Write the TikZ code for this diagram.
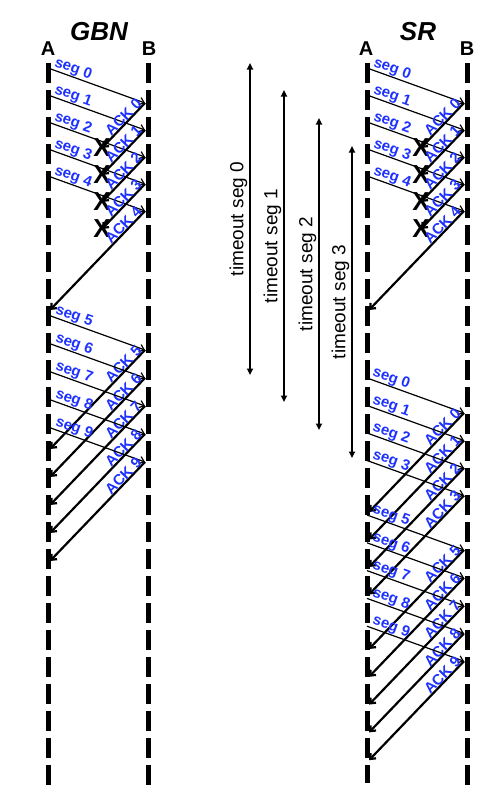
\documentclass[tikz,border=0pt]{standalone}
\usepackage{fontspec}
\setmainfont{Liberation Sans}
\usetikzlibrary{arrows.meta,calc}
\definecolor{lblblue}{RGB}{30,50,255}
\begin{document}
\begin{tikzpicture}[x=1pt, y=-1pt, line join=round,
	>={Straight Barb[length=4.5pt,width=7.5pt]},
	life/.style={line width=5pt, line cap=butt, dash pattern=on 20pt off 7pt},
	segline/.style={->, line width=1.2pt},
	ackline/.style={->, line width=2.2pt},
	seglbl/.style={lblblue, font=\fontsize{15}{17}\selectfont\bfseries, rotate=-19.8, anchor=south, inner sep=0.5pt},
	acklbl/.style={lblblue, font=\fontsize{15}{17}\selectfont\bfseries, rotate=46, anchor=south, inner sep=0.5pt},
	lost/.style={font=\fontsize{26}{28}\selectfont\bfseries, inner sep=0pt},
	tmo/.style={{Triangle[length=6.5pt,width=6pt]}-{Triangle[length=6.5pt,width=6pt]}, line width=2.3pt},
	tmolbl/.style={font=\fontsize{19}{21}\selectfont, rotate=90, anchor=south, inner sep=0pt},
	ttl/.style={font=\fontsize{26}{28}\selectfont\bfseries\itshape},
	ent/.style={font=\fontsize{20}{22}\selectfont\bfseries}]
	\useasboundingbox (0,0) rectangle (503,812);
	% ==================== TITLES ====================
	\node[ttl] (gbn) at (99,32) {GBN};
	\node[ttl] (sr) at (418,32) {SR};
	\node[ent] (gA) at (48,49) {A};
	\node[ent] (gB) at (149,49) {B};
	\node[ent] (sA) at (366,49) {A};
	\node[ent] (sB) at (467,49) {B};
	% ==================== LIFELINES ====================
	\path (48,63) coordinate (gAt) (48,785) coordinate (gAb)
	(148,63) coordinate (gBt) (148,787) coordinate (gBb)
	(367,63) coordinate (sAt) (367,783) coordinate (sAb)
	(467,63) coordinate (sBt) (467,785) coordinate (sBb);
	\foreach \p in {gA,gB,sA,sB}
	\draw[life] (\p t) -- (\p b);
	% ==================== FIRST WINDOW (GBN and SR) ====================
	\foreach \pp/\dx in {g/0, s/319}{
		\foreach \i in {0,...,4}{
			\pgfmathsetmacro\ys{68+27*\i}
			\path (\dx+48,\ys) coordinate (\pp s\i) (\dx+145,\ys+35) coordinate (\pp e\i);
			\draw[segline] (\pp s\i) -- (\pp e\i);
			\node[seglbl] (\pp sl\i) at ($(\pp s\i)!24pt!(\pp e\i)$) {seg \i};
		}
		% lost acks
		\foreach \i in {0,...,3}{
			\path (\pp e\i) ++(-43,45) coordinate (\pp x\i);
			\draw[ackline] (\pp e\i) -- (\pp x\i);
			\node[lost] (\pp X\i) at (\pp x\i) {X};
			\node[acklbl] (\pp al\i) at ($(\pp e\i)!25pt!(\pp x\i)$) {ACK \i};
		}
		\path (\pp e4) ++(-95,99) coordinate (\pp a4);
		\draw[ackline] (\pp e4) -- (\pp a4);
		\node[acklbl] (\pp al4) at ($(\pp e4)!25pt!(\pp a4)$) {ACK 4};
	}
	% ==================== GBN: SEG 5--9 ====================
	\foreach \i in {5,...,9}{
		\pgfmathsetmacro\ys{315+28*(\i-5)}
		\path (48,\ys) coordinate (gs\i) (145,\ys+35) coordinate (ge\i)
		(50,\ys+134) coordinate (ga\i);
		\draw[segline] (gs\i) -- (ge\i);
		\draw[ackline] (ge\i) -- (ga\i);
		\node[seglbl] (gsl\i) at ($(gs\i)!25pt!(ge\i)$) {seg \i};
		\node[acklbl] (gal\i) at ($(ge\i)!25pt!(ga\i)$) {ACK \i};
	}
	% ==================== SR: RESEND SEG 0--3 ====================
	\foreach \i in {0,...,3}{
		\pgfmathsetmacro\ys{378+27.5*\i}
		\path (367,\ys) coordinate (rs\i) (464,\ys+35) coordinate (re\i)
		(369,\ys+134) coordinate (ra\i);
		\draw[segline] (rs\i) -- (re\i);
		\draw[ackline] (re\i) -- (ra\i);
		\node[seglbl] (rsl\i) at ($(rs\i)!23pt!(re\i)$) {seg \i};
		\node[acklbl] (ral\i) at ($(re\i)!25pt!(ra\i)$) {ACK \i};
	}
	% ==================== SR: SEG 5--9 ====================
	\foreach \i in {5,...,9}{
		\pgfmathsetmacro\ys{515+27.8*(\i-5)}
		\path (367,\ys) coordinate (ss\i) (464,\ys+35) coordinate (se\i)
		(369,\ys+134) coordinate (sa\i);
		\draw[segline] (ss\i) -- (se\i);
		\draw[ackline] (se\i) -- (sa\i);
		\node[seglbl] (ssl\i) at ($(ss\i)!23pt!(se\i)$) {seg \i};
		\node[acklbl] (sal\i) at ($(se\i)!25pt!(sa\i)$) {ACK \i};
	}
	% ==================== TIMEOUTS ====================
	\foreach \i/\x/\a/\b in {0/250/63/375, 1/284/90/402, 2/319/118/430, 3/352/146/458}{
		\path (\x,\a) coordinate (t\i a) (\x,\b) coordinate (t\i b);
		\draw[tmo] (t\i a) -- (t\i b);
		\node[tmolbl] (tl\i) at ($(t\i a)!.5!(t\i b)+(-2.5,0)$) {timeout seg \i};
	}
\end{tikzpicture}
\end{document}
